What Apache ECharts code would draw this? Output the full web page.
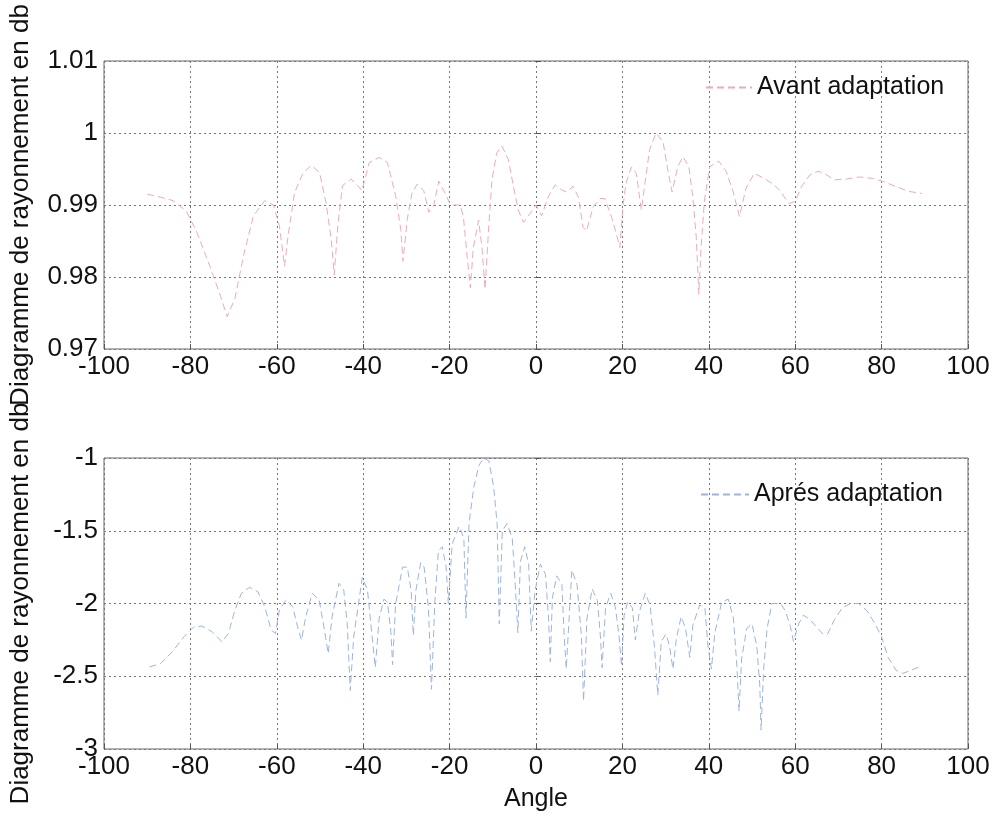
<!DOCTYPE html>
<html>
<head>
<meta charset="utf-8">
<script src="https://cdn.jsdelivr.net/npm/echarts@6/dist/echarts.min.js"></script>
<style>
  html, body { margin: 0; padding: 0; background: #fff; }
  #chart { width: 997px; height: 821px; }
</style>
</head>
<body>
<div id="chart"></div>
<script>
// avant adaptation (haut)
var anglesAvant = [-90, -87, -84, -81, -78.5, -75.5, -73, -71.5, -69.7, -67.7, -65.4, -62.8, -60.8, -59.4, -58.2, -57.4,
  -55.9, -53.9, -52, -50.1, -48.6, -47.4, -46.7, -45.9, -44.8, -42.8, -41.3, -40.3, -38.6, -36.3, -34.4, -32.5,
  -31.3, -30.8, -29.8, -28.7, -27.5, -26, -24.8, -23.7, -22.5, -21, -19.8, -17.5, -16.8, -16, -15.2, -14.5,
  -13.3, -12.5, -11.8, -11, -10.2, -9.1, -7.9, -6.4, -5.2, -4.1, -2.9, -1.4, 0, 1.3, 2.8, 4.4, 5.9, 7.1, 8.6,
  9.8, 10.9, 11.7, 13.2, 14.8, 15.9, 17.5, 18.6, 19.4, 20.2, 20.9, 22.1, 23.2, 24.4, 25.2, 26.3, 27.8, 29.4,
  30.5, 31.5, 32.8, 34, 35.4, 36.3, 37.1, 37.7, 38.2, 39, 40.2, 42.3, 44, 45.6, 47.1, 48.6, 50.5, 52.8, 55.1,
  56.6, 58.5, 60, 61.5, 63.4, 65.3, 67.2, 69.1, 71.8, 74.8, 77.9, 80.2, 83.2, 86.2, 89.3];
var valeursAvant = [0.9915, 0.9911, 0.9906, 0.9892, 0.9862, 0.9815, 0.9773, 0.9745, 0.9770, 0.9830, 0.9885, 0.9906, 0.9900, 0.9871, 0.9815, 0.9857,
  0.9917, 0.9945, 0.9955, 0.9945, 0.9903, 0.9852, 0.9803, 0.9870, 0.9927, 0.9936, 0.9927, 0.9920, 0.9959, 0.9966, 0.9959, 0.9913,
  0.9866, 0.9822, 0.9880, 0.9917, 0.9929, 0.9920, 0.9890, 0.9899, 0.9933, 0.9916, 0.9900, 0.9900, 0.9883, 0.9832, 0.9785, 0.9841,
  0.9879, 0.9841, 0.9783, 0.9864, 0.9935, 0.9972, 0.9982, 0.9963, 0.9925, 0.9893, 0.9876, 0.9888, 0.9900, 0.9885, 0.9911, 0.9928, 0.9921, 0.9918, 0.9926,
  0.9911, 0.9869, 0.9864, 0.9897, 0.9909, 0.9909, 0.9883, 0.9860, 0.9841, 0.9902, 0.9932, 0.9953, 0.9944, 0.9893, 0.9930, 0.9977, 1.0000, 0.9988,
  0.9949, 0.9918, 0.9953, 0.9967, 0.9953, 0.9911, 0.9855, 0.9776, 0.9841, 0.9907, 0.9953, 0.9961, 0.9947, 0.9919, 0.9884, 0.9923, 0.9944, 0.9937, 0.9928,
  0.9919, 0.9902, 0.9905, 0.9926, 0.9942, 0.9947, 0.9942, 0.9935, 0.9936, 0.9939, 0.9937, 0.9933, 0.9926, 0.9919, 0.9916];

// apres adaptation (bas)
var anglesApres = [-89.5, -86.9, -84.2, -81.5, -79.2, -77.3, -75, -72.7, -71.2, -69.7, -68.2, -66.3, -64.4, -62.8, -61.3, -60.3,
  -59.4, -57.9, -56.3, -55.2, -54.3, -53.3, -51.8, -50.2, -49.1, -48.1, -47.2, -45.6, -44.5, -43.7, -43, -42.2,
  -40.2, -39, -38, -37.2, -36.3, -35.2, -34.4, -33.6, -33.2, -32.5, -30.9, -29.8, -28.9, -28.4, -27.8, -26.7,
  -25.9, -24.9, -24.2, -23.4, -22.6, -21.7, -20.8, -20.3, -19.4, -17.8, -16.7, -16.2, -15.5, -14.4, -13.2, -12.1,
  -10.9, -9.8, -9, -8.5, -7.8, -6.7, -5.5, -4.8, -4.2, -3.6, -2.6, -1.7, -1.1, -0.2, 1, 2.2, 2.9, 3.3, 3.8, 4.8,
  6, 6.5, 7, 8.3, 9.5, 10.5, 11, 11.8, 13, 14.2, 14.9, 15.3, 16.1, 17.3, 18.4, 19.2, 19.8, 20.4, 21.2, 22.3, 23,
  23.9, 25.3, 26.4, 27.4, 28.2, 29, 30.1, 30.9, 31.7, 32.5, 33.6, 34.6, 35.6, 36.3, 37.9, 39.1, 39.8, 40.6, 41.4,
  43, 44.5, 45.7, 46.5, 47, 47.6, 48.8, 50, 51.1, 51.8, 52.1, 52.7, 53.5, 54.6, 55.5, 56.6, 57.7, 58.9, 59.6,
  60.8, 61.9, 63.4, 64.9, 66.4, 67.5, 69.1, 70.9, 72.8, 74.7, 76.6, 78.5, 80, 81.5, 83.4, 84.9, 86.8, 89.1];
var valeursApres = [-2.436, -2.413, -2.332, -2.229, -2.160, -2.155, -2.194, -2.263, -2.206, -2.045, -1.930, -1.889, -1.918, -2.022, -2.183, -2.206,
  -2.045, -1.976, -2.022, -2.160, -2.252, -2.090, -1.930, -1.976, -2.160, -2.344, -2.090, -1.861, -1.907, -2.137, -2.597, -2.229,
  -1.82, -1.91, -2.21, -2.44, -2.10, -1.97, -1.99, -2.19, -2.42, -2.006, -1.75, -1.75, -1.91, -2.22, -1.91, -1.72,
  -1.75, -2.03, -2.59, -1.98, -1.64, -1.61, -1.75, -2.00, -1.59, -1.47, -1.55, -2.10, -1.45, -1.20, -1.05, -1.00,
  -1.02, -1.20, -1.45, -2.14, -1.50, -1.45, -1.55, -1.87, -2.20, -1.71, -1.61, -1.73, -2.19, -1.91, -1.73, -1.80, -2.10, -2.40, -1.96, -1.81,
  -1.87, -2.21, -2.45, -1.77, -1.87, -2.22, -2.67, -2.10, -1.90, -1.98, -2.22, -2.44, -2.03, -1.93, -2.03, -2.22, -2.43, -2.08, -1.99, -2.03, -2.25,
  -2.06, -1.93, -2.01, -2.29, -2.63, -2.26, -2.21, -2.29, -2.45, -2.24, -2.09, -2.17, -2.37, -2.15, -2.01, -2.03, -2.29, -2.45, -2.20,
  -1.99, -1.97, -2.10, -2.43, -2.74, -2.38, -2.17, -2.14, -2.29, -2.56, -2.87, -2.45, -2.17, -2.00, -2.00, -2.00, -2.05, -2.16, -2.26,
  -2.14, -2.08, -2.11, -2.16, -2.21, -2.21, -2.11, -2.03, -2.00, -2.00, -2.05, -2.14, -2.23, -2.37, -2.46, -2.48, -2.46, -2.43];

var xTicks = [-100, -80, -60, -40, -20, 0, 20, 40, 60, 80, 100];
var yTicksHaut = [0.97, 0.98, 0.99, 1, 1.01];
var yTicksBas = [-3, -2.5, -2, -1.5, -1];

function zip(a, b) {
  var out = [];
  for (var i = 0; i < a.length; i++) out.push([a[i], b[i]]);
  return out;
}

var police = "'Liberation Sans', Arial, sans-serif";
var grille = { show: true, lineStyle: { color: '#777', type: [2, 3], width: 1 } };

function axeX(idx, nom) {
  return {
    type: 'value', gridIndex: idx, min: xTicks[0], max: xTicks[xTicks.length - 1], interval: 20,
    name: nom, nameLocation: 'middle', nameGap: 38,
    nameTextStyle: { color: '#111', fontSize: 25, fontFamily: police },
    axisLine: { show: false },
    axisTick: { show: true, inside: true, length: 5, lineStyle: { color: '#555' } },
    axisLabel: { color: '#111', fontSize: 26, fontFamily: police, margin: 5 },
    splitLine: grille
  };
}

function axeY(idx, ticks, interval) {
  return {
    type: 'value', gridIndex: idx, min: ticks[0], max: ticks[ticks.length - 1], interval: interval,
    name: 'Diagramme de rayonnement en db', nameLocation: 'middle', nameGap: 70,
    nameTextStyle: { color: '#111', fontSize: 26, fontFamily: police },
    axisLine: { show: false },
    axisTick: { show: true, inside: true, length: 5, lineStyle: { color: '#555' } },
    axisLabel: {
      color: '#111', fontSize: 26, fontFamily: police, margin: 6,
      formatter: function (v) { return String(+v.toFixed(2)); }
    },
    splitLine: grille
  };
}

var option = {
  backgroundColor: '#fff',
  animation: false,
  grid: [
    { left: 103, right: 29, top: 61, height: 288, show: true, borderColor: '#666', borderWidth: 1 },
    { left: 103, right: 29, top: 458, height: 291, show: true, borderColor: '#666', borderWidth: 1 }
  ],
  legend: [
    {
      data: ['Avant adaptation'], left: 700, top: 70, itemWidth: 46, itemHeight: 2, itemGap: 10,
      textStyle: { color: '#111', fontSize: 25, fontFamily: police }
    },
    {
      data: ['Aprés adaptation'], left: 695, top: 477, itemWidth: 48, itemHeight: 2, itemGap: 10,
      textStyle: { color: '#111', fontSize: 25, fontFamily: police }
    }
  ],
  xAxis: [axeX(0, ''), axeX(1, 'Angle')],
  yAxis: [axeY(0, yTicksHaut, 0.01), axeY(1, yTicksBas, 0.5)],
  series: [
    {
      name: 'Avant adaptation', type: 'line', xAxisIndex: 0, yAxisIndex: 0,
      data: zip(anglesAvant, valeursAvant), showSymbol: false, symbol: 'none',
      lineStyle: { color: '#f0a8c4', width: 1, type: [7, 4] }, itemStyle: { color: '#f0a8c4' }
    },
    {
      name: 'Aprés adaptation', type: 'line', xAxisIndex: 1, yAxisIndex: 1,
      data: zip(anglesApres, valeursApres), showSymbol: false, symbol: 'none',
      lineStyle: { color: '#9cb4e0', width: 1, type: [7, 4] }, itemStyle: { color: '#9cb4e0' }
    }
  ]
};

var myChart = echarts.init(document.getElementById('chart'));
myChart.setOption(option);
</script>
</body>
</html>
